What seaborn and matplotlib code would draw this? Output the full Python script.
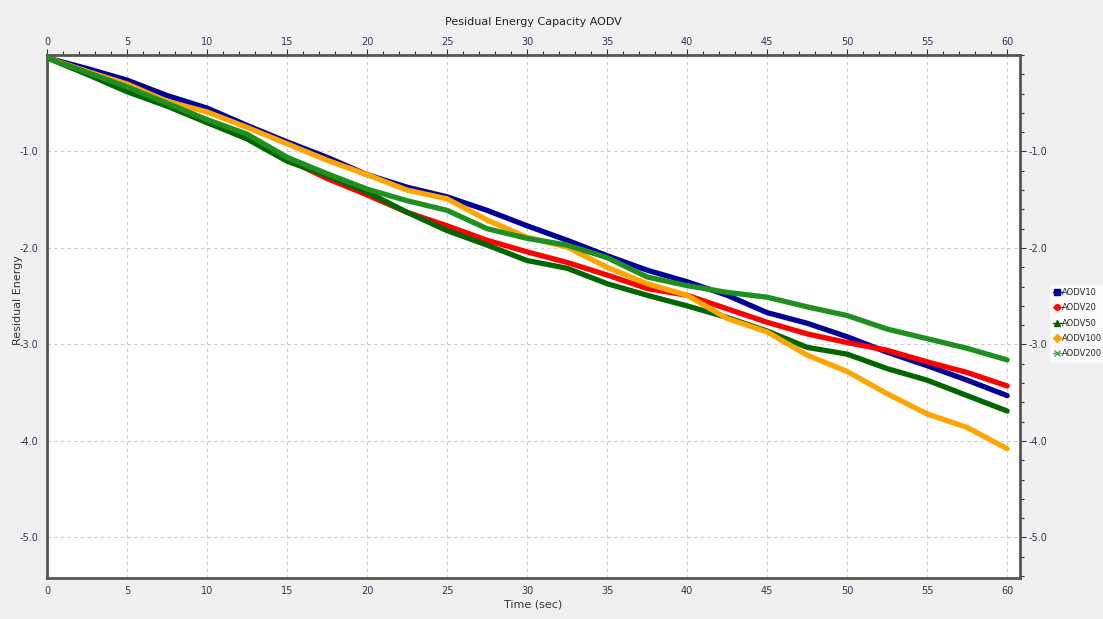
import numpy as np
import pandas as pd
import matplotlib
matplotlib.use("Agg")
import matplotlib.pyplot as plt
import seaborn as sns
from matplotlib.lines import Line2D
from matplotlib.ticker import MultipleLocator

# time axis (sec)
time_sec = [0, 2.5, 5, 7.5, 10, 12.5, 15, 17.5, 20, 22.5, 25, 27.5, 30,
            32.5, 35, 37.5, 40, 42.5, 45, 47.5, 50, 52.5, 55, 57.5, 60]

aodv10 = [-0.03, -0.14, -0.26, -0.42, -0.55, -0.73, -0.90, -1.06, -1.24, -1.37, -1.47, -1.61, -1.77,
          -1.92, -2.08, -2.23, -2.35, -2.49, -2.67, -2.78, -2.92, -3.08, -3.22, -3.37, -3.53]
aodv20 = [-0.03, -0.17, -0.34, -0.52, -0.70, -0.85, -1.08, -1.28, -1.45, -1.63, -1.77, -1.92, -2.04,
          -2.15, -2.28, -2.42, -2.49, -2.63, -2.77, -2.89, -2.98, -3.06, -3.18, -3.29, -3.43]
aodv50 = [-0.03, -0.20, -0.38, -0.53, -0.70, -0.87, -1.10, -1.25, -1.42, -1.63, -1.82, -1.97, -2.13,
          -2.21, -2.37, -2.49, -2.60, -2.72, -2.86, -3.03, -3.10, -3.25, -3.37, -3.53, -3.69]
aodv100 = [-0.03, -0.17, -0.30, -0.48, -0.59, -0.75, -0.92, -1.09, -1.24, -1.40, -1.49, -1.71, -1.89,
           -1.99, -2.20, -2.37, -2.49, -2.73, -2.87, -3.11, -3.28, -3.51, -3.72, -3.86, -4.08]
aodv200 = [-0.03, -0.18, -0.33, -0.50, -0.67, -0.82, -1.06, -1.23, -1.39, -1.51, -1.61, -1.80, -1.90,
           -1.97, -2.10, -2.30, -2.39, -2.46, -2.51, -2.61, -2.70, -2.84, -2.94, -3.04, -3.16]

series_names = ["AODV10", "AODV20", "AODV50", "AODV100", "AODV200"]
series_vals = [aodv10, aodv20, aodv50, aodv100, aodv200]
colors = ["#000099", "#ff0000", "#006600", "#ffa500", "#1f8f1f"]
legend_colors = ["#000099", "#ff0000", "#006600", "#ffa500", "#44aa44"]
markers = ["s", "o", "^", "D", "x"]

df = pd.concat([pd.DataFrame({"time": time_sec, "energy": v, "run": n})
                for n, v in zip(series_names, series_vals)], ignore_index=True)

sns.set_style("white")
plt.rcParams["font.family"] = ["DejaVu Sans"]

fig = plt.figure(figsize=(11.03, 6.19), dpi=100, facecolor="#f0f0f0")
ax = fig.add_axes([47 / 1103, 1 - 578 / 619, (1020 - 47) / 1103, (578 - 55) / 619])
ax.set_facecolor("white")

sns.lineplot(data=df, x="time", y="energy", hue="run", hue_order=series_names,
             palette=dict(zip(series_names, colors)), linewidth=3.8, legend=False,
             ax=ax, zorder=3)

ax.set_xlim(0, 60.8)
ax.set_ylim(-5.42, 0)

ax.xaxis.set_major_locator(MultipleLocator(5))
ax.xaxis.set_minor_locator(MultipleLocator(1))
ax.set_yticks([-1, -2, -3, -4, -5])
ax.set_yticklabels(["-1.0", "-2.0", "-3.0", "-4.0", "-5.0"])
ax.yaxis.set_minor_locator(MultipleLocator(0.2))

ax.tick_params(axis="both", which="both", direction="out", labelsize=7,
               labelcolor="#333355", color="#333333", pad=2,
               top=True, labeltop=True, right=True, labelright=True)
ax.tick_params(which="major", length=4, width=0.8)
ax.tick_params(which="minor", length=3, width=0.8)

ax.grid(True, which="major", linestyle=(0, (3, 3)), color="#cccccc", linewidth=0.8)

for s in ax.spines.values():
    s.set_visible(True)
    s.set_color("#555555")
    s.set_linewidth(2)

ax.set_xlabel("Time (sec)", fontsize=8, color="#333333", labelpad=2)
ax.set_ylabel("")
fig.text(18 / 1103, 1 - 300 / 619, "Residual Energy", rotation=90,
         ha="center", va="center", fontsize=8, color="#333333")
fig.text((47 + 1020) / 2 / 1103, 1 - 22 / 619, "Pesidual Energy Capacity AODV",
         ha="center", va="center", fontsize=8, color="#222222")

handles = [Line2D([0], [0], color=c, marker=m, markersize=4, linewidth=1.0,
                  markeredgewidth=1.0)
           for c, m in zip(legend_colors, markers)]
fig.legend(handles, series_names, loc="center left",
           bbox_to_anchor=(1050 / 1103, 1 - 323 / 619), fontsize=6,
           frameon=True, facecolor="white", edgecolor="white", fancybox=False,
           handlelength=1.1, handletextpad=0.05, labelspacing=0.75, borderpad=0.3,
           borderaxespad=0)

fig.savefig("out.png", dpi=100, facecolor=fig.get_facecolor())
